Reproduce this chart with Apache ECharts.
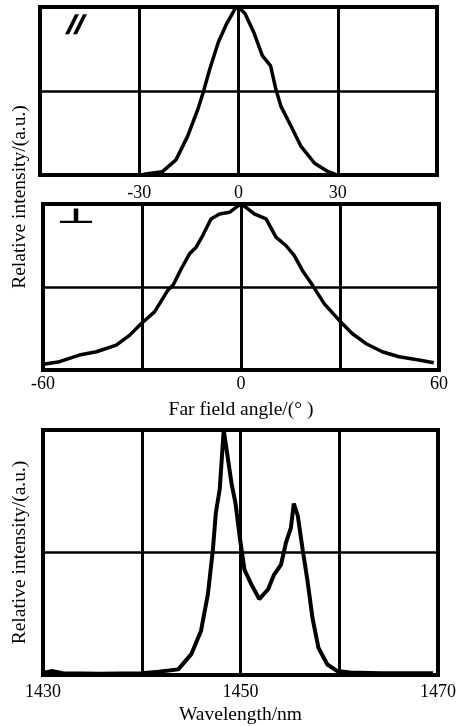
<!DOCTYPE html>
<html>
<head>
<meta charset="utf-8">
<script src="https://cdn.jsdelivr.net/npm/echarts@6/dist/echarts.min.js"></script>
<style>
  html, body { margin: 0; padding: 0; background: #fff; }
  #chart { width: 471px; height: 726px; }
</style>
</head>
<body>
<div id="chart"></div>
<script>
// parallel far field
const angleParallel = [-28.7, -23, -18.9, -15.4, -12.3, -10.7, -8.7, -6.1, -3.6, -1, 0, 2, 4.6, 7.2, 9.7, 11.3, 12.8, 15.9, 18.9, 23, 27.1, 29.2];
const intensityParallel = [0.005, 0.02, 0.09, 0.23, 0.39, 0.49, 0.63, 0.79, 0.9, 0.99, 1.0, 0.96, 0.85, 0.71, 0.65, 0.51, 0.41, 0.29, 0.17, 0.07, 0.02, 0.005];

// perpendicular far field
const anglePerp = [-59.4, -55, -49, -43.8, -37.8, -33.7, -30.2, -26.2, -22.2, -20.6, -18.1, -15.6, -13.6, -11.6, -9.1, -6.5, -3.5, -1.5, 0, 1.5, 4, 7.6, 10.6, 13.6, 16.1, 18.6, 21.7, 25.2, 29.7, 33.7, 37.8, 42.8, 47.9, 53.9, 58.4];
const intensityPerp = [0.036, 0.05, 0.09, 0.11, 0.15, 0.21, 0.28, 0.35, 0.48, 0.51, 0.61, 0.7, 0.74, 0.81, 0.91, 0.94, 0.95, 0.98, 1.0, 0.98, 0.94, 0.91, 0.8, 0.75, 0.69, 0.6, 0.51, 0.4, 0.3, 0.22, 0.16, 0.11, 0.08, 0.06, 0.044];

// spectrum
const wavelength = [1430.2, 1431, 1432, 1435.7, 1440, 1441.7, 1443.7, 1445, 1446, 1446.7, 1447.2, 1447.5, 1447.9, 1448.3, 1448.7, 1449.1, 1449.5, 1449.9, 1450.4, 1451.1, 1451.9, 1452.8, 1453.4, 1454.1, 1454.6, 1455.1, 1455.4, 1455.8, 1456.3, 1456.8, 1457.3, 1457.9, 1458.8, 1459.8, 1461.1, 1464.2, 1469.5];
const intensitySpec = [0.01, 0.016, 0.007, 0.005, 0.007, 0.013, 0.023, 0.084, 0.18, 0.33, 0.51, 0.66, 0.76, 1.0, 0.89, 0.78, 0.7, 0.57, 0.43, 0.37, 0.31, 0.35, 0.41, 0.45, 0.54, 0.6, 0.7, 0.65, 0.51, 0.38, 0.23, 0.11, 0.043, 0.016, 0.01, 0.007, 0.007];

const ticksParallel = [-30, 0, 30];
const ticksPerp = [-60, 0, 60];
const ticksSpec = [1430, 1450, 1470];

const font = 'Liberation Serif';
const pairs = (xs, ys) => xs.map((x, i) => [x, ys[i]]);

function xAxisFor(idx, min, max, interval, shown, margin, name) {
  return {
    type: 'value', gridIndex: idx, min: min, max: max, interval: interval,
    axisLine: { show: false },
    axisTick: { show: false },
    splitLine: { show: true, lineStyle: { color: '#000', width: 3 } },
    axisLabel: {
      margin: margin, color: '#000', fontFamily: font, fontSize: 18,
      showMinLabel: true, showMaxLabel: true,
      formatter: v => shown.includes(v) ? String(v) : ''
    },
    name: name || '', nameLocation: 'middle', nameGap: 30,
    nameTextStyle: { color: '#000', fontFamily: font, fontSize: 19.5 }
  };
}

function yAxisFor(idx, name) {
  return {
    type: 'value', gridIndex: idx, min: 0, max: 1, interval: 0.5,
    axisLine: { show: false }, axisTick: { show: false },
    axisLabel: { show: false },
    splitLine: { show: true, lineStyle: { color: '#000', width: 2.5 } },
    name: name || '', nameLocation: 'middle', nameGap: 13,
    nameTextStyle: { color: '#000', fontFamily: font, fontSize: 19.5 }
  };
}

const lineStyle = { color: '#000', width: 3.5 };
const frame = { show: true, borderColor: '#000', borderWidth: 4, backgroundColor: 'transparent' };

const chart = echarts.init(document.getElementById('chart'));
chart.setOption({
  animation: false,
  backgroundColor: '#fff',
  grid: [
    Object.assign({ left: 40, top: 7, width: 397, height: 168 }, frame),
    Object.assign({ left: 43, top: 204, width: 396, height: 166 }, frame),
    Object.assign({ left: 43, top: 430, width: 395, height: 247 }, frame)
  ],
  xAxis: [
    xAxisFor(0, -60, 60, 30, ticksParallel, 9),
    xAxisFor(1, -60, 60, 30, ticksPerp, 5, 'Far field angle/(° )'),
    xAxisFor(2, 1430, 1470, 10, ticksSpec, 8, 'Wavelength/nm')
  ],
  yAxis: [
    yAxisFor(0),
    yAxisFor(1),
    yAxisFor(2, 'Relative intensity/(a.u.)')
  ],
  series: [
    { type: 'line', xAxisIndex: 0, yAxisIndex: 0, showSymbol: false, lineStyle: lineStyle, data: pairs(angleParallel, intensityParallel) },
    { type: 'line', xAxisIndex: 1, yAxisIndex: 1, showSymbol: false, lineStyle: lineStyle, data: pairs(anglePerp, intensityPerp) },
    { type: 'line', xAxisIndex: 2, yAxisIndex: 2, showSymbol: false, lineStyle: Object.assign({}, lineStyle, { width: 4 }), data: pairs(wavelength, intensitySpec) }
  ],
  graphic: [
    {
      type: 'text', x: 20, y: 197, rotation: Math.PI / 2,
      style: { text: 'Relative intensity/(a.u.)', fontFamily: font, fontSize: 19.5, fill: '#000', align: 'center', verticalAlign: 'middle' }
    },
    {
      type: 'text', x: 76, y: 25,
      style: { text: '//', fontFamily: 'DejaVu Serif', fontSize: 22, fontWeight: 'bold', fontStyle: 'italic', fill: '#000', stroke: '#000', lineWidth: 1.5, align: 'center', verticalAlign: 'middle' }
    },
    {
      type: 'text', x: 76, y: 218, scaleX: 2.4, scaleY: 1.15,
      style: { text: '⊥', fontFamily: 'DejaVu Sans', fontSize: 18, fontWeight: 'bold', fill: '#000', align: 'center', verticalAlign: 'middle' }
    }
  ]
});
</script>
</body>
</html>
